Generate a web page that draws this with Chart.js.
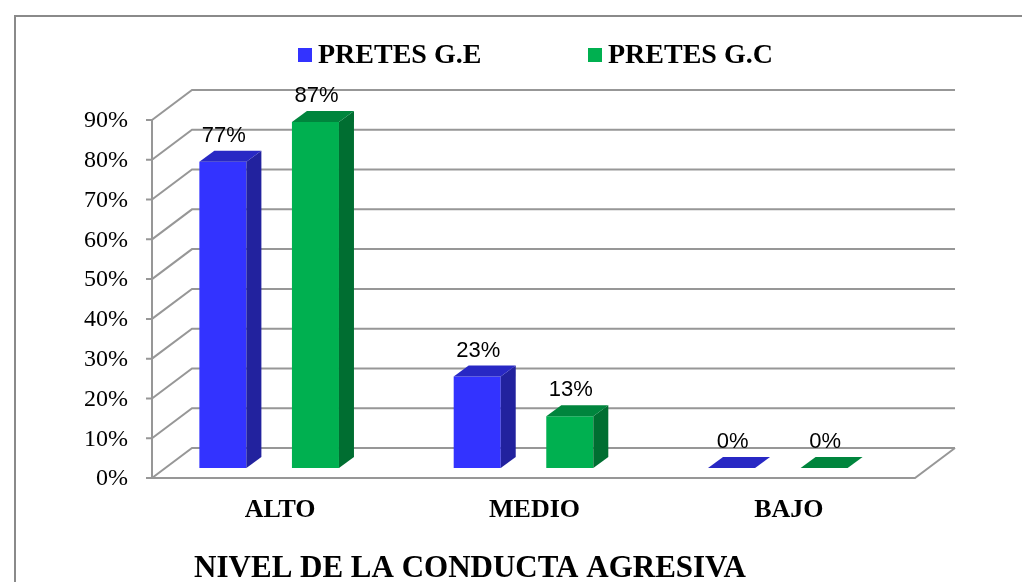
<!DOCTYPE html>
<html>
<head>
<meta charset="utf-8">
<script src="https://cdn.jsdelivr.net/npm/chart.js@4/dist/chart.umd.min.js"></script>
<style>
    html, body { margin: 0; padding: 0; background: #fff; }
    #wrap { width: 1022px; height: 582px; }
</style>
</head>
<body>
<div id="wrap"><canvas id="grafico" width="1022" height="582"></canvas></div>
<script>
// datos
const categorias = ['ALTO', 'MEDIO', 'BAJO'];
const pretesGE = [77, 23, 0];
const pretesGC = [87, 13, 0];
const ticksY = [0, 10, 20, 30, 40, 50, 60, 70, 80, 90];
const etiquetasY = ['0%', '10%', '20%', '30%', '40%', '50%', '60%', '70%', '80%', '90%'];
const nombresSeries = ['PRETES G.E', 'PRETES G.C'];
const tituloEje = 'NIVEL DE LA CONDUCTA AGRESIVA';

// colores: frente, arriba, costado
const coloresFrente = ['#3333FF', '#00B050'];
const coloresArriba = ['#2828C4', '#00853D'];
const coloresCostado = ['#22229E', '#006E31'];

// desplazamientos de la perspectiva
const FONDO = { dx: 40, dy: -30 };
const BARRA = { dx: 15, dy: -11 };
const PLANO = { dx: -10, dy: -10 };
const GRIS = '#979797';

const marco3d = {
    id: 'marco3d',
    beforeDraw(chart) {
        const ctx = chart.ctx;
        const area = chart.chartArea;
        const y = chart.scales.y;
        const x = chart.scales.x;

        ctx.save();
        ctx.fillStyle = '#fff';
        ctx.fillRect(0, 0, chart.width, chart.height);

        // borde exterior
        ctx.strokeStyle = '#8a8a8a';
        ctx.lineWidth = 2;
        ctx.beginPath();
        ctx.moveTo(15, chart.height);
        ctx.lineTo(15, 16);
        ctx.lineTo(chart.width, 16);
        ctx.stroke();

        // pared del fondo y líneas de división
        ctx.strokeStyle = GRIS;
        ctx.lineWidth = 2;
        ticksY.forEach(v => {
            const py = y.getPixelForValue(v);
            ctx.beginPath();
            ctx.moveTo(area.left, py);
            ctx.lineTo(area.left + FONDO.dx, py + FONDO.dy);
            ctx.lineTo(area.right + FONDO.dx, py + FONDO.dy);
            ctx.stroke();
        });

        // piso
        const base = y.getPixelForValue(0);
        ctx.beginPath();
        ctx.moveTo(area.left, base);
        ctx.lineTo(area.right, base);
        ctx.lineTo(area.right + FONDO.dx, base + FONDO.dy);
        ctx.stroke();

        // eje vertical y marcas
        ctx.beginPath();
        ctx.moveTo(area.left, y.getPixelForValue(ticksY[ticksY.length - 1]));
        ctx.lineTo(area.left, base);
        ticksY.forEach(v => {
            const py = y.getPixelForValue(v);
            ctx.moveTo(area.left - 6, py);
            ctx.lineTo(area.left, py);
        });
        ctx.stroke();

        // etiquetas del eje Y
        ctx.fillStyle = '#000';
        ctx.font = '24px "Liberation Serif", "Times New Roman", serif';
        ctx.textAlign = 'right';
        ctx.textBaseline = 'middle';
        ticksY.forEach((v, i) => {
            ctx.fillText(etiquetasY[i], area.left - 24, y.getPixelForValue(v) + 1);
        });

        // categorías
        ctx.font = 'bold 26px "Liberation Serif", "Times New Roman", serif';
        ctx.textAlign = 'center';
        categorias.forEach((c, i) => {
            ctx.fillText(c, x.getPixelForValue(i) + 1, 510);
        });

        // título del eje
        ctx.font = 'bold 31px "Liberation Serif", "Times New Roman", serif';
        ctx.fillText(tituloEje, 470, 569);

        // leyenda
        const leyendaX = [298, 588];
        ctx.font = 'bold 28px "Liberation Serif", "Times New Roman", serif';
        ctx.textAlign = 'left';
        nombresSeries.forEach((n, i) => {
            ctx.fillStyle = coloresFrente[i];
            ctx.fillRect(leyendaX[i], 48, 14, 14);
            ctx.fillStyle = '#000';
            ctx.fillText(n, leyendaX[i] + 20, 56);
        });
        ctx.restore();
    },
    beforeDatasetsDraw(chart) {
        chart.ctx.save();
        chart.ctx.translate(PLANO.dx, PLANO.dy);
    },
    afterDatasetsDraw(chart) {
        const ctx = chart.ctx;
        chart.data.datasets.forEach((ds, d) => {
            const meta = chart.getDatasetMeta(d);
            meta.data.forEach((bar, i) => {
                const p = bar.getProps(['x', 'y', 'base', 'width'], true);
                const izq = p.x - p.width / 2;
                const der = p.x + p.width / 2;

                // costado
                if (p.base - p.y > 0.5) {
                    ctx.fillStyle = coloresCostado[d];
                    ctx.beginPath();
                    ctx.moveTo(der, p.y);
                    ctx.lineTo(der + BARRA.dx, p.y + BARRA.dy);
                    ctx.lineTo(der + BARRA.dx, p.base + BARRA.dy);
                    ctx.lineTo(der, p.base);
                    ctx.closePath();
                    ctx.fill();
                }

                // tapa
                ctx.fillStyle = coloresArriba[d];
                ctx.beginPath();
                ctx.moveTo(izq, p.y);
                ctx.lineTo(izq + BARRA.dx, p.y + BARRA.dy);
                ctx.lineTo(der + BARRA.dx, p.y + BARRA.dy);
                ctx.lineTo(der, p.y);
                ctx.closePath();
                ctx.fill();

                // etiqueta de valor
                ctx.fillStyle = '#000';
                ctx.font = '22px "Liberation Sans", Arial, sans-serif';
                ctx.textAlign = 'center';
                ctx.textBaseline = 'middle';
                ctx.fillText(ds.data[i] + '%', p.x + 1, p.y - 26);
            });
        });
        ctx.restore();
    }
};

new Chart(document.getElementById('grafico'), {
    type: 'bar',
    data: {
        labels: categorias,
        datasets: [
            {
                label: nombresSeries[0],
                data: pretesGE,
                backgroundColor: coloresFrente[0],
                borderWidth: 0,
                barPercentage: 0.508,
                categoryPercentage: 0.728
            },
            {
                label: nombresSeries[1],
                data: pretesGC,
                backgroundColor: coloresFrente[1],
                borderWidth: 0,
                barPercentage: 0.508,
                categoryPercentage: 0.728
            }
        ]
    },
    options: {
        responsive: false,
        animation: false,
        devicePixelRatio: 1,
        layout: {
            padding: { left: 152, right: 107, top: 120, bottom: 104 }
        },
        plugins: {
            legend: { display: false },
            tooltip: { enabled: false },
            title: { display: false }
        },
        scales: {
            x: { display: false },
            y: { display: false, min: 0, max: 90 }
        }
    },
    plugins: [marco3d]
});
</script>
</body>
</html>
